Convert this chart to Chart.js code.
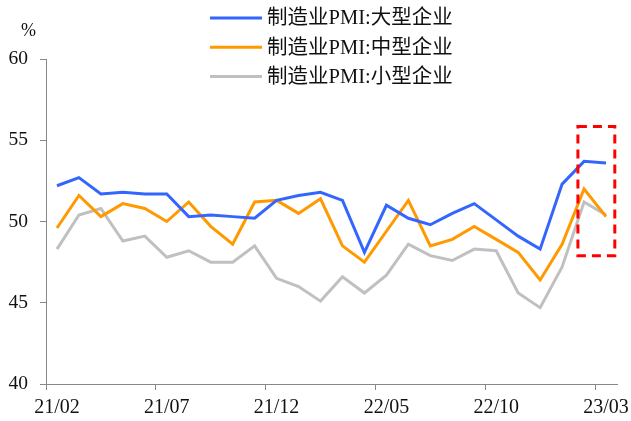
<!DOCTYPE html>
<html>
<head>
<meta charset="utf-8">
<script src="https://cdn.jsdelivr.net/npm/chart.js@4/dist/chart.umd.min.js"></script>
<style>
html,body{margin:0;padding:0;background:#fff;}
#wrap{width:631px;height:421px;}
</style>
</head>
<body>
<div id="wrap"><canvas id="c" width="631" height="421"></canvas></div>
<script>
const categories = ["21/02","21/03","21/04","21/05","21/06","21/07","21/08","21/09","21/10","21/11","21/12","22/01","22/02","22/03","22/04","22/05","22/06","22/07","22/08","22/09","22/10","22/11","22/12","23/01","23/02","23/03"];
const largePMI  = [52.2,52.7,51.7,51.8,51.7,51.7,50.3,50.4,50.3,50.2,51.3,51.6,51.8,51.3,48.1,51.0,50.2,49.8,50.5,51.1,50.1,49.1,48.3,52.3,53.7,53.6];
const mediumPMI = [49.6,51.6,50.3,51.1,50.8,50.0,51.2,49.7,48.6,51.2,51.3,50.5,51.4,48.5,47.5,49.4,51.3,48.5,48.9,49.7,48.9,48.1,46.4,48.6,52.0,50.3];
const smallPMI  = [48.3,50.4,50.8,48.8,49.1,47.8,48.2,47.5,47.5,48.5,46.5,46.0,45.1,46.6,45.6,46.7,48.6,47.9,47.6,48.3,48.2,45.6,44.7,47.2,51.2,50.4];
const seriesNames = ["制造业PMI:大型企业","制造业PMI:中型企业","制造业PMI:小型企业"];
const yTicks = [40,45,50,55,60];
const unitLabel = "%";
// highlighted region (data coordinates: category index, value)
const highlightX = [23.72, 25.4];
const highlightY = [47.9, 55.85];

const FONT = '"Times New Roman","Liberation Serif","Noto Sans CJK SC",serif';
const colors = ["#3366FF","#FF9900","#C0C0C0"];
const axisColor = "#888888";

const customLegend = {
  id: 'customLegend',
  afterDraw(chart) {
    const ctx = chart.ctx;
    ctx.save();
    ctx.font = '20.5px ' + FONT;
    ctx.textBaseline = 'middle';
    ctx.fillStyle = '#111';
    chart.data.datasets.forEach((ds, i) => {
      const y = 18 + i * 29.3;
      ctx.strokeStyle = ds.borderColor;
      ctx.lineWidth = 3;
      ctx.beginPath();
      ctx.moveTo(210, y);
      ctx.lineTo(262, y);
      ctx.stroke();
      ctx.fillText(ds.label, 267, y + 1);
    });
    ctx.font = '18px ' + FONT;
    ctx.textAlign = 'center';
    ctx.fillText(unitLabel, 28.5, 31);
    ctx.restore();
  }
};

const highlightBox = {
  id: 'highlightBox',
  afterDatasetsDraw(chart) {
    const xs = chart.scales.x, ys = chart.scales.y;
    const x1 = xs.getPixelForValue(highlightX[0]);
    const x2 = xs.getPixelForValue(highlightX[1]);
    const y1 = ys.getPixelForValue(highlightY[1]);
    const y2 = ys.getPixelForValue(highlightY[0]);
    const ctx = chart.ctx;
    ctx.save();
    ctx.strokeStyle = '#FF0000';
    ctx.lineWidth = 3;
    ctx.setLineDash([9, 6]);
    ctx.strokeRect(x1, y1, x2 - x1, y2 - y1);
    ctx.restore();
  }
};

new Chart(document.getElementById('c'), {
  type: 'line',
  data: {
    labels: categories,
    datasets: [
      {label: seriesNames[0], data: largePMI, borderColor: colors[0], backgroundColor: colors[0]},
      {label: seriesNames[1], data: mediumPMI, borderColor: colors[1], backgroundColor: colors[1]},
      {label: seriesNames[2], data: smallPMI, borderColor: colors[2], backgroundColor: colors[2]}
    ].map(d => Object.assign(d, {borderWidth: 3, pointRadius: 0, tension: 0, fill: false}))
  },
  options: {
    responsive: false,
    devicePixelRatio: 1,
    animation: false,
    layout: {padding: {top: 59, right: 14, left: 0, bottom: 0}},
    plugins: {legend: {display: false}, tooltip: {enabled: false}},
    scales: {
      x: {
        type: 'category',
        offset: true,
        afterFit: s => { s.height = 37; s.paddingRight = 0; s.paddingLeft = 0; },
        border: {color: axisColor, width: 1},
        grid: {
          offset: true,
          drawOnChartArea: false,
          drawTicks: true,
          tickLength: 6,
          color: c => (c.index % 5 === 0 ? axisColor : 'rgba(0,0,0,0)'),
          tickColor: c => (c.index % 5 === 0 ? axisColor : 'rgba(0,0,0,0)')
        },
        ticks: {
          autoSkip: false,
          maxRotation: 0,
          padding: 6,
          color: '#111',
          font: {family: FONT, size: 20},
          callback: (v, i) => (i % 5 === 0 ? categories[i] : '')
        }
      },
      y: {
        min: yTicks[0],
        max: yTicks[yTicks.length - 1],
        afterFit: s => { s.width = 46; s.paddingTop = 0; s.paddingBottom = 0; },
        afterBuildTicks: s => { s.ticks = yTicks.map(v => ({value: v})); },
        border: {color: axisColor, width: 1},
        grid: {drawOnChartArea: false, drawTicks: true, tickLength: 6, color: axisColor},
        ticks: {padding: 12, color: '#111', font: {family: FONT, size: 19.5}}
      }
    }
  },
  plugins: [highlightBox, customLegend]
});
</script>
</body>
</html>
